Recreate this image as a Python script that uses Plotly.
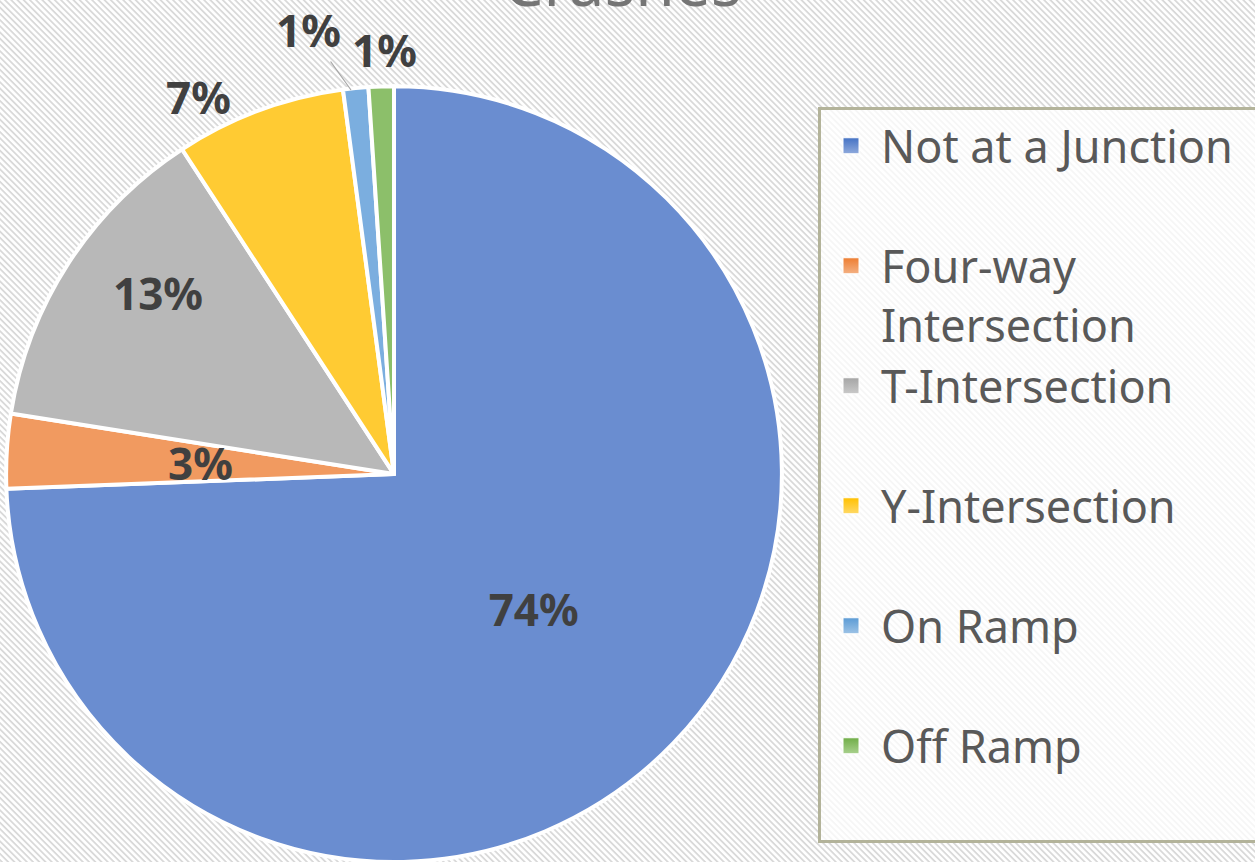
import plotly.graph_objects as go

# share of crashes by junction type (percent)
labels = ["Not at a Junction", "Four-way<br>Intersection", "T-Intersection",
          "Y-Intersection", "On Ramp", "Off Ramp"]
shares = [74.4, 3.1, 13.3, 7.1, 1.05, 1.05]
slice_colors = ["#6A8DD0", "#F19A60", "#B8B8B8", "#FFCB33", "#7BAEDF", "#8CBF6A"]
# top / bottom of the gradient used in the legend keys
key_top = ["#4472C4", "#ED7D31", "#A5A5A5", "#FFC000", "#5B9BD5", "#70AD47"]
key_bottom = ["#8FAADC", "#F4B183", "#C9C9C9", "#FFD966", "#9DC3E6", "#A9D18E"]
# only the big slice keeps plotly's own label, the rest sit where excel put them
label_pos = ["inside", "none", "none", "none", "none", "none"]
label_xy = {1: (200, 463), 2: (158, 293), 3: (198, 97), 5: (384, 50)}

W, H = 1255, 862
total = sum(shares)

# Excel-like diagonal hatch for the chart area
hatch = ("data:image/svg+xml;utf8,"
         "<svg xmlns='http://www.w3.org/2000/svg' width='1255' height='862'>"
         "<defs><pattern id='p' width='4.4' height='4.4' patternUnits='userSpaceOnUse' "
         "patternTransform='rotate(45)'>"
         "<rect width='4.4' height='4.4' fill='white'/>"
         "<rect width='4.4' height='1.8' fill='%23D9D9D9'/></pattern></defs>"
         "<rect width='1255' height='862' fill='url(%23p)'/></svg>")

fig = go.Figure(go.Pie(
    labels=labels,
    values=shares,
    sort=False,
    direction="clockwise",
    rotation=0,
    marker=dict(colors=slice_colors, line=dict(color="white", width=4)),
    texttemplate="%{percent:.0%}",
    textposition=label_pos,
    insidetextorientation="horizontal",
    textfont=dict(family="Noto Sans", size=44, color="#404040", weight="bold"),
    hoverinfo="label+percent",
    showlegend=False,
    domain=dict(x=[6 / W, 782 / W], y=[0, 0.9]),
))

# legend keys (bigger squares with the gradient look)
for i, lab in enumerate(labels):
    name = lab if "<br>" in lab else lab + "<br> "
    if i == 0:
        name = lab + "\u00a0\u00a0<br> "
    fig.add_trace(go.Scatter(
        x=[None], y=[None], mode="markers", name=name,
        marker=dict(symbol="square", size=16, color=key_top[i],
                    gradient=dict(type="vertical", color=key_bottom[i]),
                    line=dict(color="white", width=1)),
    ))

lbl_font = dict(family="Noto Sans", size=44, color="#404040", weight="bold")
for i, (px, py) in label_xy.items():
    fig.add_annotation(text=f"{shares[i] / total:.0%}", x=px / W, y=1 - py / H,
                       xref="paper", yref="paper", xanchor="center", yanchor="middle",
                       showarrow=False, font=lbl_font)
# On Ramp label with its leader line
fig.add_annotation(text=f"{shares[4] / total:.0%}", x=351 / W, y=1 - 90 / H,
                   xref="paper", yref="paper", ax=-43, ay=-60,
                   xanchor="center", yanchor="middle",
                   showarrow=True, arrowhead=0, arrowwidth=1.2, arrowcolor="#A6A6A6",
                   font=lbl_font)

fig.add_annotation(text="Crashes", x=622 / W, y=1, xref="paper", yref="paper",
                   xanchor="center", yanchor="bottom", yshift=-27, showarrow=False,
                   font=dict(family="Noto Sans", size=64, color="#757575"))

fig.update_layout(
    width=W, height=H,
    margin=dict(l=0, r=0, t=0, b=0, autoexpand=False),
    paper_bgcolor="white",
    plot_bgcolor="rgba(0,0,0,0)",
    xaxis=dict(visible=False),
    yaxis=dict(visible=False),
    uniformtext=dict(minsize=44, mode="show"),
    images=[dict(source=hatch, xref="paper", yref="paper", x=0, y=1,
                 sizex=1, sizey=1, xanchor="left", yanchor="top",
                 sizing="stretch", layer="below")],
    legend=dict(
        x=818 / W, y=1 - 107 / H, xanchor="left", yanchor="top",
        bgcolor="rgba(255,255,255,0.75)", bordercolor="#B3B39A", borderwidth=3,
        font=dict(family="Noto Sans", size=45, color="#595959"),
        valign="top", itemwidth=50, tracegroupgap=0,
    ),
)

fig.write_html("out.html", config={"displayModeBar": False},
               post_script="document.body.style.margin='0';")
